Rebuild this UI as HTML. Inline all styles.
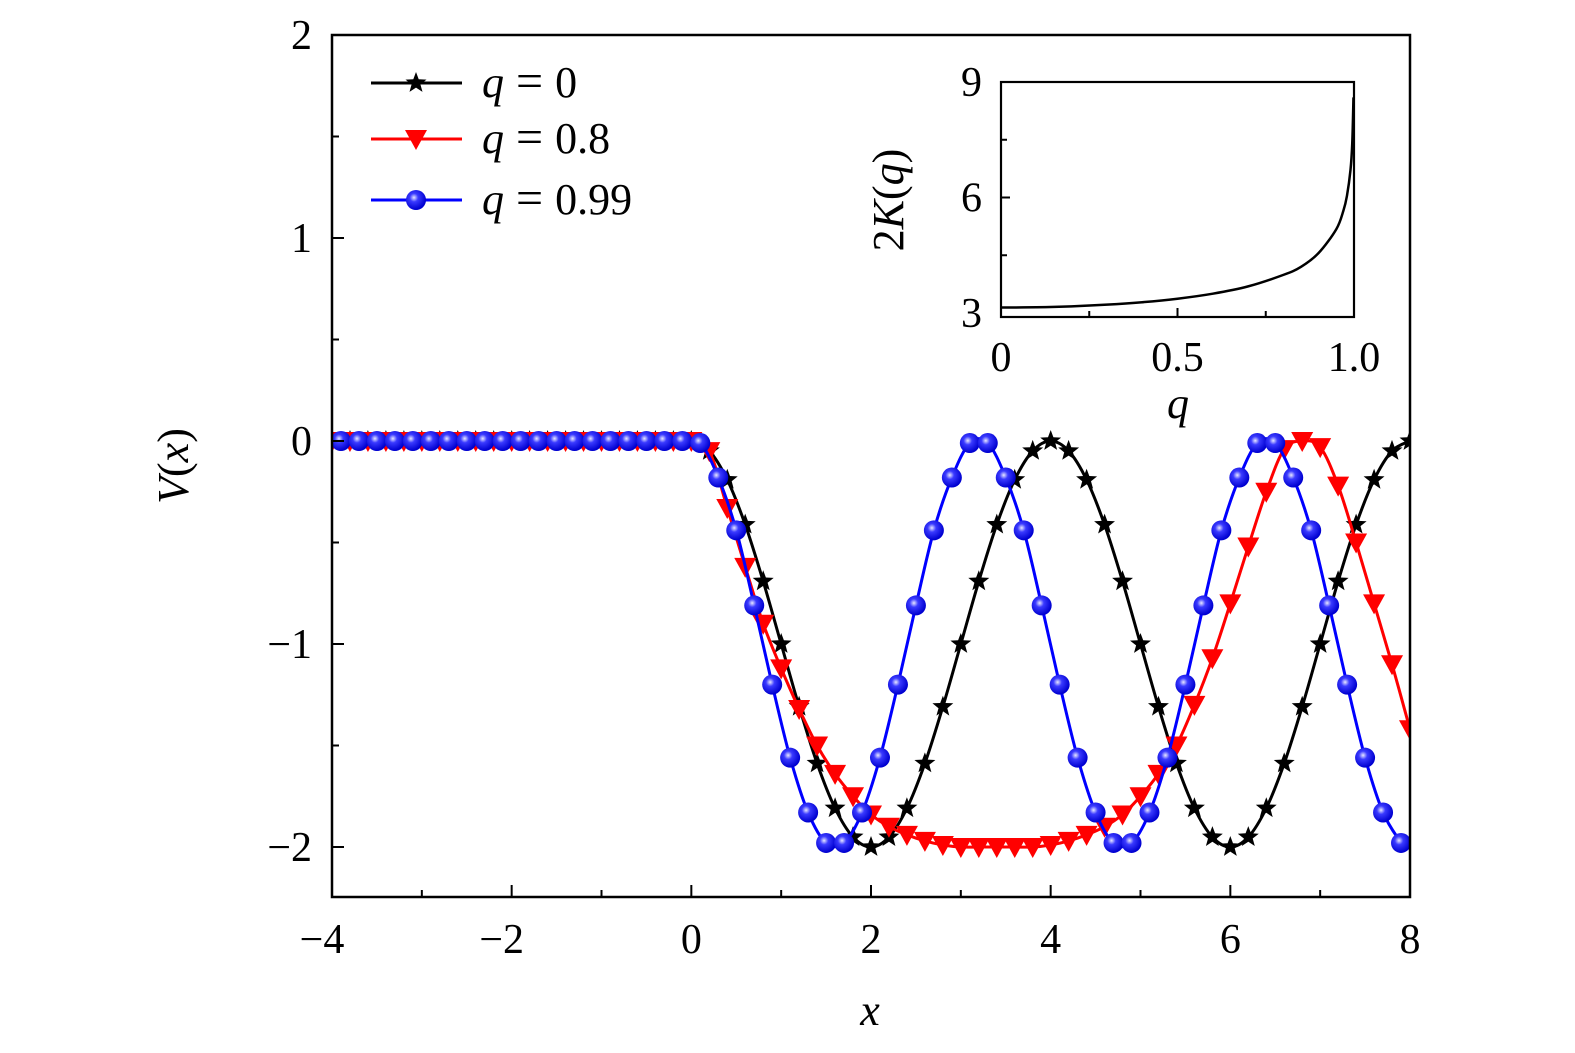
<!DOCTYPE html>
<html><head><meta charset="utf-8"><style>
html,body{margin:0;padding:0;background:#fff;}
svg{display:block;font-family:"Liberation Serif",serif;}
</style></head><body>
<svg id="chart" width="1575" height="1053" viewBox="0 0 1575 1053" xmlns="http://www.w3.org/2000/svg">
<defs>
<radialGradient id="ball" cx="0.4" cy="0.38" r="0.6">
<stop offset="0" stop-color="#e8e8ff"/><stop offset="0.35" stop-color="#3a3aff"/><stop offset="1" stop-color="#0000d0"/>
</radialGradient>
</defs>
<g id="main"></g>
<g id="inset"></g>
<g id="legend"></g>
</svg>
<script>
// ===== main chart data =====
const xBlack = [-4,-3.8,-3.6,-3.4,-3.2,-3,-2.8,-2.6,-2.4,-2.2,-2,-1.8,-1.6,-1.4,-1.2,-1,-0.8,-0.6,-0.4,-0.2,0,0.2,0.4,0.6,0.8,1,1.2,1.4,1.6,1.8,2,2.2,2.4,2.6,2.8,3,3.2,3.4,3.6,3.8,4,4.2,4.4,4.6,4.8,5,5.2,5.4,5.6,5.8,6,6.2,6.4,6.6,6.8,7,7.2,7.4,7.6,7.8,8];
const vBlack = [0,0,0,0,0,0,0,0,0,0,0,0,0,0,0,0,0,0,0,0,0,-0.049,-0.191,-0.412,-0.691,-1,-1.309,-1.588,-1.809,-1.951,-2,-1.951,-1.809,-1.588,-1.309,-1,-0.691,-0.412,-0.191,-0.049,0,-0.049,-0.191,-0.412,-0.691,-1,-1.309,-1.588,-1.809,-1.951,-2,-1.951,-1.809,-1.588,-1.309,-1,-0.691,-0.412,-0.191,-0.049,0];
const xRed = [-4,-3.8,-3.6,-3.4,-3.2,-3,-2.8,-2.6,-2.4,-2.2,-2,-1.8,-1.6,-1.4,-1.2,-1,-0.8,-0.6,-0.4,-0.2,0,0.2,0.4,0.6,0.8,1,1.2,1.4,1.6,1.8,2,2.2,2.4,2.6,2.8,3,3.2,3.4,3.6,3.8,4,4.2,4.4,4.6,4.8,5,5.2,5.4,5.6,5.8,6,6.2,6.4,6.6,6.8,7,7.2,7.4,7.6,7.8,8];
const vRed = [0,0,0,0,0,0,0,0,0,0,0,0,0,0,0,0,0,0,0,0,0,-0.05,-0.33,-0.62,-0.9,-1.12,-1.32,-1.5,-1.64,-1.75,-1.84,-1.9,-1.94,-1.97,-1.99,-2,-2,-2,-2,-2,-1.99,-1.97,-1.94,-1.9,-1.84,-1.75,-1.64,-1.5,-1.3,-1.07,-0.8,-0.52,-0.25,-0.04,0,-0.03,-0.22,-0.5,-0.8,-1.1,-1.42];
const xBlue = [-3.9,-3.7,-3.5,-3.3,-3.1,-2.9,-2.7,-2.5,-2.3,-2.1,-1.9,-1.7,-1.5,-1.3,-1.1,-0.9,-0.7,-0.5,-0.3,-0.1,0.1,0.3,0.5,0.7,0.9,1.1,1.3,1.5,1.7,1.9,2.1,2.3,2.5,2.7,2.9,3.1,3.3,3.5,3.7,3.9,4.1,4.3,4.5,4.7,4.9,5.1,5.3,5.5,5.7,5.9,6.1,6.3,6.5,6.7,6.9,7.1,7.3,7.5,7.7,7.9];
const vBlue = [0,0,0,0,0,0,0,0,0,0,0,0,0,0,0,0,0,0,0,0,-0.01,-0.18,-0.44,-0.81,-1.2,-1.56,-1.83,-1.98,-1.98,-1.83,-1.56,-1.2,-0.81,-0.44,-0.18,-0.01,-0.01,-0.18,-0.44,-0.81,-1.2,-1.56,-1.83,-1.98,-1.98,-1.83,-1.56,-1.2,-0.81,-0.44,-0.18,-0.01,-0.01,-0.18,-0.44,-0.81,-1.2,-1.56,-1.83,-1.98];
const xTicks = [-4,-2,0,2,4,6,8];
const xTickLabels = ["\u22124","\u22122","0","2","4","6","8"];
const yTicks = [-2,-1,0,1,2];
const yTickLabels = ["\u22122","\u22121","0","1","2"];
// ===== inset data =====
const qVals = [0,0.1,0.2,0.3,0.4,0.5,0.6,0.7,0.8,0.85,0.9,0.95,0.97,0.98,0.99,0.995,0.9985];
const kVals = [3.1416,3.1495,3.1731,3.216,3.28,3.3715,3.5016,3.6914,3.9906,4.2,4.561,5.18,5.66,6.04,6.71,7.4,8.6];
const qTicks = [0,0.5,1.0];
const qTickLabels = ["0","0.5","1.0"];
const kTicks = [3,6,9];
const kTickLabels = ["3","6","9"];

const NS="http://www.w3.org/2000/svg";
function mk(tag,attrs,parent){const e=document.createElementNS(NS,tag);for(const k in attrs)e.setAttribute(k,attrs[k]);parent.appendChild(e);return e;}
const L=332,R=1410,T=35,B=897;
const sx=x=>L+(x+4)/12*(R-L);
const sy=v=>441-v*203;
function smooth(pts){let d="M"+pts[0][0]+","+pts[0][1];for(let i=0;i<pts.length-1;i++){const p0=pts[Math.max(i-1,0)],p1=pts[i],p2=pts[i+1],p3=pts[Math.min(i+2,pts.length-1)];const c1x=p1[0]+(p2[0]-p0[0])/6,c1y=p1[1]+(p2[1]-p0[1])/6,c2x=p2[0]-(p3[0]-p1[0])/6,c2y=p2[1]-(p3[1]-p1[1])/6;d+=` C${c1x},${c1y} ${c2x},${c2y} ${p2[0]},${p2[1]}`;}return d;}
function starPath(cx,cy,r){let d="";for(let i=0;i<10;i++){const a=-Math.PI/2+i*Math.PI/5,rr=i%2?r*0.42:r;d+=(i?"L":"M")+(cx+rr*Math.cos(a)).toFixed(1)+","+(cy+rr*Math.sin(a)).toFixed(1);}return d+"Z";}
function marker(type,cx,cy,g){
  let e;
  if(type==="star"){e=mk("path",{d:starPath(cx,cy,11),fill:"#000"},g);}
  else if(type==="tri"){e=mk("path",{d:`M${cx-11},${cy-9}L${cx+11},${cy-9}L${cx},${cy+11}Z`,fill:"#ff0000"},g);}
  else {e=mk("circle",{cx:cx,cy:cy,r:10,fill:"url(#ball)"},g);}
  return e;
}
const main=document.getElementById("main");
const cp=mk("clipPath",{id:"plotclip"},main);mk("rect",{x:L,y:T,width:R-L,height:B-T},cp);
const series=[
 {name:"q-0",xs:xBlack,vs:vBlack,color:"#000",m:"star"},
 {name:"q-0-8",xs:xRed,vs:vRed,color:"#ff0000",m:"tri"},
 {name:"q-0-99",xs:xBlue,vs:vBlue,color:"#0000ff",m:"ball"}];
series.forEach(s=>{
  const g=mk("g",{"clip-path":"url(#plotclip)"},main);
  
  
  const pts=s.xs.map((x,i)=>[sx(x),sy(s.vs[i])]);
  if(s.xs[0]>-4)pts.unshift([sx(-4),sy(s.vs[0])]);
  const line=mk("path",{d:smooth(pts),fill:"none",stroke:s.color,"stroke-width":3},g);
  
  
  s.xs.forEach((x,i)=>{const m=marker(s.m,sx(x),sy(s.vs[i]),g);
    
    });
});
const frame=mk("rect",{x:L,y:T,width:R-L,height:B-T,fill:"none",stroke:"#000","stroke-width":2.5},main);


for(let v=-4;v<=8;v+=1){const major=v%2===0;mk("line",{x1:sx(v),x2:sx(v),y1:B,y2:B-(major?12:7),stroke:"#000","stroke-width":2},main);}
xTicks.forEach((v,i)=>{const t=mk("text",{x:sx(v)+(xTickLabels[i].length>1?-10:0),y:953,"font-size":42,"text-anchor":"middle"},main);t.textContent=xTickLabels[i];
  
  });
for(let v=-2;v<=2.001;v+=0.5){const major=Math.abs(v-Math.round(v))<1e-6;mk("line",{x1:L,x2:L+(major?12:7),y1:sy(v),y2:sy(v),stroke:"#000","stroke-width":2},main);}
yTicks.forEach((v,i)=>{const t=mk("text",{x:312,y:sy(v)+14,"font-size":42,"text-anchor":"end"},main);t.textContent=yTickLabels[i];
  
  });
const xt=mk("text",{x:870,y:1025,"font-size":44,"font-style":"italic","text-anchor":"middle"},main);xt.textContent="x";


const yt=mk("text",{x:0,y:0,"font-size":44,"text-anchor":"middle",transform:"translate(188,466) rotate(-90)"},main);
yt.innerHTML='<tspan font-style="italic">V</tspan>(<tspan font-style="italic">x</tspan>)';


const inset=document.getElementById("inset");


const iL=1001,iR=1354,iT=82,iB=317;
const qx=q=>iL+q*(iR-iL);
const ky=k=>313-(k-3)/6*(313-82);
const ipts=qVals.map((q,i)=>[qx(q),ky(kVals[i])]);
const icurve=mk("path",{d:smooth(ipts),fill:"none",stroke:"#000","stroke-width":2.5},inset);


const iframe=mk("rect",{x:iL,y:iT,width:iR-iL,height:iB-iT,fill:"none",stroke:"#000","stroke-width":2.2},inset);


[0.25,0.5,0.75].forEach(q=>mk("line",{x1:qx(q),x2:qx(q),y1:iB,y2:iB-(q===0.5?9:6),stroke:"#000","stroke-width":2},inset));
[4.5,6,7.5].forEach(k=>mk("line",{x1:iL,x2:iL+(k===6?9:6),y1:ky(k),y2:ky(k),stroke:"#000","stroke-width":2},inset));
qTicks.forEach((q,i)=>{const t=mk("text",{x:qx(q),y:371,"font-size":42,"text-anchor":"middle"},inset);t.textContent=qTickLabels[i];
  
  });
kTicks.forEach((k,i)=>{const t=mk("text",{x:982,y:ky(k)+14,"font-size":42,"text-anchor":"end"},inset);t.textContent=kTickLabels[i];
  
  });
const iqt=mk("text",{x:1178,y:418,"font-size":44,"font-style":"italic","text-anchor":"middle"},inset);iqt.textContent="q";


const ikt=mk("text",{x:0,y:0,"font-size":44,"text-anchor":"middle",transform:"translate(903,200) rotate(-90)"},inset);
ikt.innerHTML='2<tspan font-style="italic">K</tspan>(<tspan font-style="italic">q</tspan>)';


const leg=document.getElementById("legend");
const legLabels=["0","0.8","0.99"];const legY=[83,139,200];
series.forEach((s,i)=>{
  const g=mk("g",{},leg);
  
  
  mk("line",{x1:371,x2:462,y1:legY[i],y2:legY[i],stroke:s.color,"stroke-width":3},g);
  marker(s.m,416,legY[i],g);
  const t=mk("text",{x:482,y:legY[i]+14,"font-size":44},g);
  t.innerHTML='<tspan font-style="italic">q</tspan><tspan dx="12" font-size="48">=</tspan><tspan dx="12">'+legLabels[i]+'</tspan>';
});
</script>
</body></html>
